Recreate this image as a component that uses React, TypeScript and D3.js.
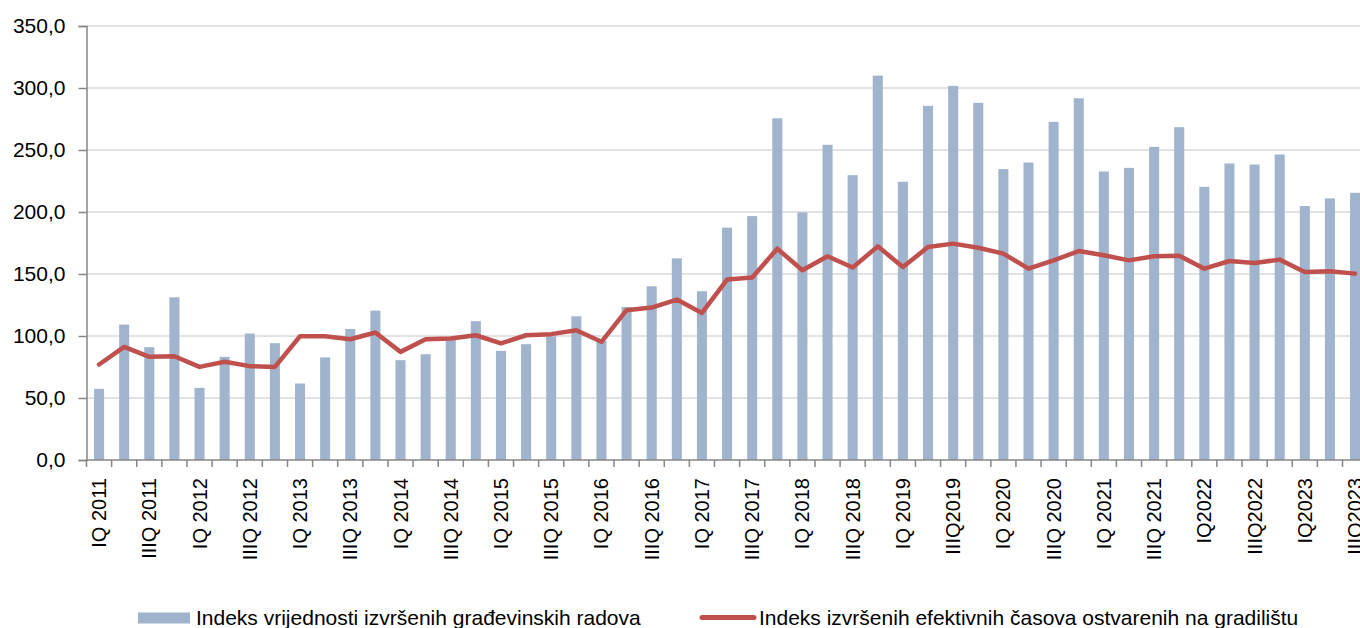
import React, { useRef, useEffect } from 'react';
import * as d3 from 'd3';

const WIDTH = 1360;
const HEIGHT = 628;
const MARGIN = { top: 26, left: 86.5, bottom: 168 };
const STEP = 25.12;

const quarters = [
  'IQ 2011', 'IIQ 2011', 'IIIQ 2011', 'IVQ 2011',
  'IQ 2012', 'IIQ 2012', 'IIIQ 2012', 'IVQ 2012',
  'IQ 2013', 'IIQ 2013', 'IIIQ 2013', 'IVQ 2013',
  'IQ 2014', 'IIQ 2014', 'IIIQ 2014', 'IVQ 2014',
  'IQ 2015', 'IIQ 2015', 'IIIQ 2015', 'IVQ 2015',
  'IQ 2016', 'IIQ 2016', 'IIIQ 2016', 'IVQ 2016',
  'IQ 2017', 'IIQ 2017', 'IIIQ 2017', 'IVQ 2017',
  'IQ 2018', 'IIQ 2018', 'IIIQ 2018', 'IVQ 2018',
  'IQ 2019', 'IIQ 2019', 'IIIQ2019', 'IVQ 2019',
  'IQ 2020', 'IIQ 2020', 'IIIQ 2020', 'IVQ 2020',
  'IQ 2021', 'IIQ 2021', 'IIIQ 2021', 'IVQ 2021',
  'IQ2022', 'IIQ2022', 'IIIQ2022', 'IVQ2022',
  'IQ2023', 'IIQ2023', 'IIIQ2023',
];

// Indeks vrijednosti izvršenih građevinskih radova
const constructionValue = [
  57.4, 109.2, 91.0, 131.2, 58.2, 83.2, 102.0, 94.2, 61.7, 82.7,
  105.7, 120.5, 80.5, 85.3, 97.0, 111.9, 88.0, 93.4, 99.8, 115.9,
  96.1, 123.4, 140.1, 162.6, 136.1, 187.4, 196.7, 275.6, 199.7, 254.2,
  229.7, 310.0, 224.4, 285.6, 301.7, 288.0, 234.6, 239.9, 272.7, 291.7,
  232.7, 235.6, 252.5, 268.4, 220.3, 239.1, 238.3, 246.4, 204.8, 211.0,
  215.5,
];

// Indeks izvršenih efektivnih časova ostvarenih na gradilištu
const effectiveHours = [
  77.0, 91.2, 83.2, 83.7, 75.1, 79.2, 75.7, 75.1, 99.8, 99.8,
  97.4, 102.8, 87.2, 97.4, 98.0, 100.6, 94.0, 100.6, 101.5, 104.7,
  95.3, 120.8, 122.9, 129.4, 118.6, 145.5, 147.1, 170.4, 153.0, 164.3,
  155.2, 172.3, 155.6, 171.7, 174.5, 171.2, 166.4, 154.3, 161.0, 168.5,
  165.1, 161.0, 164.3, 164.8, 154.3, 160.5, 158.9, 161.6, 151.6, 152.2,
  150.3,
];

const yTicks = [0, 50, 100, 150, 200, 250, 300, 350];

const legendLabels = [
  'Indeks vrijednosti izvršenih građevinskih radova',
  'Indeks izvršenih efektivnih časova ostvarenih na gradilištu',
];

const FONT = '"Liberation Sans", Arial, sans-serif';
const BAR_COLOR = '#a0b5cd';
const LINE_COLOR = '#c0504d';
const AXIS_COLOR = '#868686';
const GRID_COLOR = '#d9d9d9';

export default function App() {
  const svgRef = useRef<SVGSVGElement>(null);

  useEffect(() => {
    document.body.style.margin = '0';
    document.body.style.overflow = 'hidden';
    if (!svgRef.current) return;

    const innerBottom = HEIGHT - MARGIN.bottom;
    const x = d3.scaleBand<string>()
      .domain(quarters)
      .range([MARGIN.left, MARGIN.left + STEP * quarters.length])
      .paddingInner(0.6)
      .paddingOuter(0.3);

    const y = d3.scaleLinear()
      .domain([0, 350])
      .range([innerBottom, MARGIN.top]);

    const svg = d3.select(svgRef.current);
    svg.selectAll('*').remove();

    // Grid
    svg.append('g').selectAll('line')
      .data(yTicks.filter(d => d > 0))
      .join('line')
      .attr('x1', MARGIN.left).attr('x2', WIDTH)
      .attr('y1', d => y(d)).attr('y2', d => y(d))
      .attr('stroke', GRID_COLOR).attr('stroke-width', 1.5);

    // Bars
    svg.append('g').selectAll('rect')
      .data(constructionValue)
      .join('rect')
      .attr('x', (_, i) => x(quarters[i])!)
      .attr('width', x.bandwidth())
      .attr('y', d => y(d))
      .attr('height', d => y(0) - y(d))
      .attr('fill', BAR_COLOR);

    // Line
    const line = d3.line<number>()
      .x((_, i) => x(quarters[i])! + x.bandwidth() / 2)
      .y(d => y(d));

    svg.append('path')
      .datum(effectiveHours)
      .attr('d', line)
      .attr('fill', 'none')
      .attr('stroke', LINE_COLOR)
      .attr('stroke-width', 4.5)
      .attr('stroke-linejoin', 'round')
      .attr('stroke-linecap', 'round');

    // Y axis
    svg.append('g')
      .attr('transform', `translate(${MARGIN.left},0)`)
      .call(d3.axisLeft(y).tickValues(yTicks).tickSize(8).tickPadding(13)
        .tickFormat(d => d3.format('.1f')(d as number).replace('.', ',')))
      .call(a => a.selectAll('text').attr('fill', '#000').attr('font-size', 21).attr('font-family', FONT))
      .call(a => a.selectAll('line,path').attr('stroke', AXIS_COLOR).attr('stroke-width', 1.5));

    // X axis: ticks at band boundaries
    const xAxis = svg.append('g');
    xAxis.append('line')
      .attr('x1', MARGIN.left).attr('x2', WIDTH)
      .attr('y1', innerBottom).attr('y2', innerBottom)
      .attr('stroke', AXIS_COLOR).attr('stroke-width', 1.5);
    xAxis.selectAll('line.tick')
      .data(quarters)
      .join('line')
      .attr('class', 'tick')
      .attr('x1', d => x(d)! - x.step() * 0.3).attr('x2', d => x(d)! - x.step() * 0.3)
      .attr('y1', innerBottom).attr('y2', innerBottom + 7)
      .attr('stroke', AXIS_COLOR).attr('stroke-width', 1.5);

    xAxis.selectAll('text')
      .data(quarters.filter((_, i) => i % 2 === 0))
      .join('text')
      .attr('transform', d => `translate(${x(d)! + x.bandwidth() / 2},${innerBottom + 18}) rotate(-90)`)
      .attr('text-anchor', 'end')
      .attr('dy', '0.35em')
      .attr('font-size', 20)
      .attr('font-family', FONT)
      .attr('fill', '#000')
      .text(d => d);

    // Legend
    const legend = svg.append('g').attr('font-family', FONT).attr('font-size', 21).attr('fill', '#000');
    legend.append('rect')
      .attr('x', 138).attr('y', 612.5).attr('width', 52).attr('height', 11)
      .attr('fill', BAR_COLOR);
    legend.append('text').attr('x', 196).attr('y', 625).text(legendLabels[0]);
    legend.append('line')
      .attr('x1', 702).attr('x2', 754).attr('y1', 617.5).attr('y2', 617.5)
      .attr('stroke', LINE_COLOR).attr('stroke-width', 5).attr('stroke-linecap', 'round');
    legend.append('text').attr('x', 759).attr('y', 625).text(legendLabels[1]);
  }, []);

  return (
    <svg ref={svgRef} width={WIDTH} height={HEIGHT} style={{ display: 'block', background: '#fff' }} />
  );
}
